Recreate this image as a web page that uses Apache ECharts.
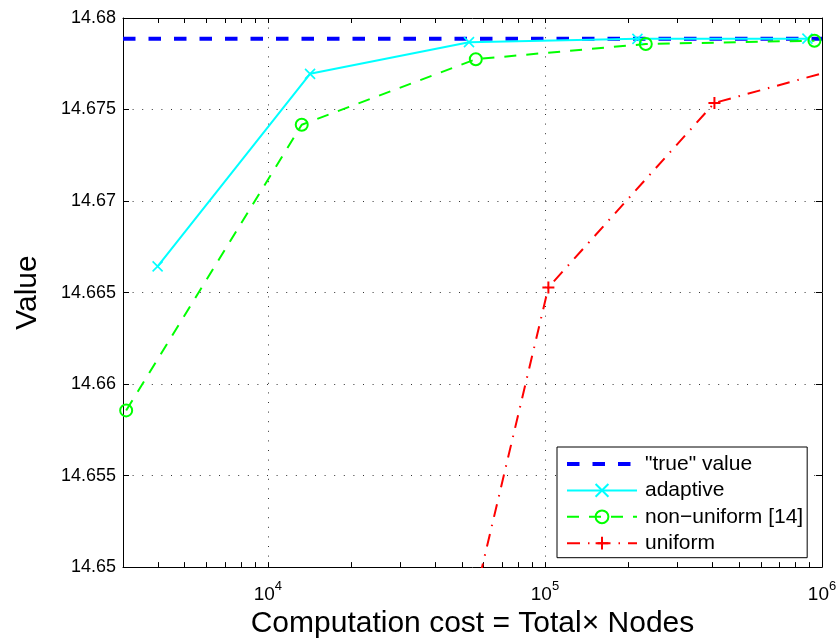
<!DOCTYPE html>
<html>
<head>
<meta charset="utf-8">
<script src="https://cdn.jsdelivr.net/npm/echarts@6/dist/echarts.min.js"></script>
<style>
  html, body { margin: 0; padding: 0; background: #fff; }
  #chart { width: 840px; height: 644px; }
</style>
</head>
<body>
<div id="chart"></div>
<script>
// Reference ("true") value
const trueCost = [3000, 1000000];
const trueValue = [14.67886, 14.67886];

// Adaptive scheme
const adaptiveCost = [4000, 14200, 53200, 215700, 886000];
const adaptiveValue = [14.66643, 14.67695, 14.67868, 14.67886, 14.67887];

// Non-uniform scheme [14]
const nonUniformCost = [3080, 13250, 56300, 231200, 939000];
const nonUniformValue = [14.65856, 14.67417, 14.67775, 14.67858, 14.67876];

// Uniform scheme
const uniformCost = [25700, 102900, 409000, 1640000];
const uniformValue = [14.6268, 14.66528, 14.67536, 14.67787];

// Axis ranges and tick positions
const xMin = 3000, xMax = 1000000;
const yMin = 14.65, yMax = 14.68, yStep = 0.005;
const xMinorTicks = [4000, 5000, 6000, 7000, 8000, 9000,
  20000, 30000, 40000, 50000, 60000, 70000, 80000, 90000,
  200000, 300000, 400000, 500000, 600000, 700000, 800000, 900000];

const seriesNames = ['"true" value', 'adaptive', 'non\u2212uniform [14]', 'uniform'];

const pairs = (xs, ys) => xs.map((x, i) => [x, ys[i]]);

const FONT = 'Liberation Sans, Arial, Helvetica, sans-serif';
const gridDots = { color: '#333', width: 1, type: [1, 8.6] };

function powerLabel(v) {
  const l = Math.log10(v);
  const e = Math.round(l);
  if (Math.abs(l - e) > 1e-6) return '';
  return '{b|10}{s|' + e + '}';
}

const chart = echarts.init(document.getElementById('chart'), null, { renderer: 'canvas' });

chart.setOption({
  animation: false,
  backgroundColor: '#fff',
  textStyle: { fontFamily: FONT },
  grid: { left: 123, right: 18, top: 18, bottom: 75, containLabel: false },
  legend: {
    data: [
      { name: seriesNames[0], itemStyle: { opacity: 0 }, lineStyle: { width: 4 } },
      { name: seriesNames[1], lineStyle: { width: 2 } },
      { name: seriesNames[2], lineStyle: { width: 2 } },
      { name: seriesNames[3], lineStyle: { width: 2 } }
    ],
    orient: 'vertical',
    left: 557,
    top: 447,
    itemWidth: 70,
    itemHeight: 16,
    itemGap: 5.4,
    padding: [6.5, 4, 4, 8],
    backgroundColor: '#fff',
    borderColor: '#000',
    borderWidth: 1,
    borderRadius: 0,
    textStyle: { fontFamily: FONT, fontSize: 21, lineHeight: 21, color: '#000', padding: [0, 0, 0, 3] },
    selectedMode: false
  },
  xAxis: [
    {
      type: 'log', logBase: 10, min: xMin, max: xMax, position: 'bottom',
      name: 'Computation cost = Total\u00d7 Nodes',
      nameLocation: 'middle', nameGap: 38,
      nameTextStyle: { fontFamily: FONT, fontSize: 30, color: '#000' },
      axisLine: { lineStyle: { color: '#000', width: 1 } },
      axisTick: { inside: true, length: 5, lineStyle: { color: '#000' } },
      axisLabel: {
        margin: 13, color: '#000', formatter: powerLabel,
        showMinLabel: false,
        rich: {
          b: { fontFamily: FONT, fontSize: 19, color: '#000', verticalAlign: 'bottom' },
          s: { fontFamily: FONT, fontSize: 13, color: '#000', verticalAlign: 'bottom', padding: [0, 0, 11, 0] }
        }
      },
      splitLine: { show: true, lineStyle: gridDots },
      minorTick: { show: false }
    },
    {
      type: 'log', logBase: 10, min: xMin, max: xMax, position: 'top',
      axisLine: { lineStyle: { color: '#000', width: 1 } },
      axisTick: { inside: true, length: 5, lineStyle: { color: '#000' } },
      axisLabel: { show: false },
      splitLine: { show: false }
    }
  ],
  yAxis: [
    {
      type: 'value', min: yMin, max: yMax, interval: yStep, position: 'left',
      name: 'Value', nameLocation: 'middle', nameGap: 80,
      nameTextStyle: { fontFamily: FONT, fontSize: 30, color: '#000' },
      axisLine: { show: true, lineStyle: { color: '#000', width: 1 } },
      axisTick: { show: true, inside: true, length: 6, lineStyle: { color: '#000' } },
      axisLabel: {
        margin: 7, color: '#000', fontFamily: FONT, fontSize: 18,
        formatter: v => String(parseFloat(v.toFixed(3)))
      },
      splitLine: { show: true, lineStyle: gridDots }
    },
    {
      type: 'value', min: yMin, max: yMax, interval: yStep, position: 'right',
      axisLine: { show: true, lineStyle: { color: '#000', width: 1 } },
      axisTick: { show: true, inside: true, length: 6, lineStyle: { color: '#000' } },
      axisLabel: { show: false },
      splitLine: { show: false }
    }
  ],
  series: [
    {
      name: seriesNames[0], type: 'line',
      data: pairs(trueCost, trueValue),
      symbol: 'none',
      lineStyle: { color: '#0000ff', width: 4, type: [12.5, 13] },
      itemStyle: { color: '#0000ff' }
    },
    {
      name: seriesNames[1], type: 'line',
      data: pairs(adaptiveCost, adaptiveValue),
      symbol: 'path://M0,0L1,1M1,0L0,1', symbolSize: 10,
      lineStyle: { color: '#00ffff', width: 2 },
      itemStyle: { color: 'rgba(0,0,0,0)', borderColor: '#00ffff', borderWidth: 1.6 }
    },
    {
      name: seriesNames[2], type: 'line',
      data: pairs(nonUniformCost, nonUniformValue),
      symbol: 'circle', symbolSize: 12,
      lineStyle: { color: '#00ff00', width: 2, type: [12, 10] },
      itemStyle: { color: 'rgba(0,0,0,0)', borderColor: '#00ff00', borderWidth: 2 }
    },
    {
      name: seriesNames[3], type: 'line',
      data: pairs(uniformCost, uniformValue),
      symbol: 'path://M0.5,0L0.5,1M0,0.5L1,0.5', symbolSize: 12,
      lineStyle: { color: '#ff0000', width: 2, type: [13, 8, 1.5, 8] },
      itemStyle: { color: 'rgba(0,0,0,0)', borderColor: '#ff0000', borderWidth: 2 }
    },
    {
      // minor log ticks on the bottom and top edges
      type: 'custom', silent: true, clip: false, z: 3,
      data: xMinorTicks.map(v => [v, yMin]),
      renderItem(params, api) {
        const v = api.value(0);
        const b = api.coord([v, yMin]);
        const t = api.coord([v, yMax]);
        const x = Math.round(b[0]) + 0.5;
        return {
          type: 'group',
          children: [
            { type: 'line', shape: { x1: x, y1: b[1], x2: x, y2: b[1] - 5 }, style: { stroke: '#000', lineWidth: 1 } },
            { type: 'line', shape: { x1: x, y1: t[1], x2: x, y2: t[1] + 5 }, style: { stroke: '#000', lineWidth: 1 } }
          ]
        };
      }
    }
  ]
});
</script>
</body>
</html>
